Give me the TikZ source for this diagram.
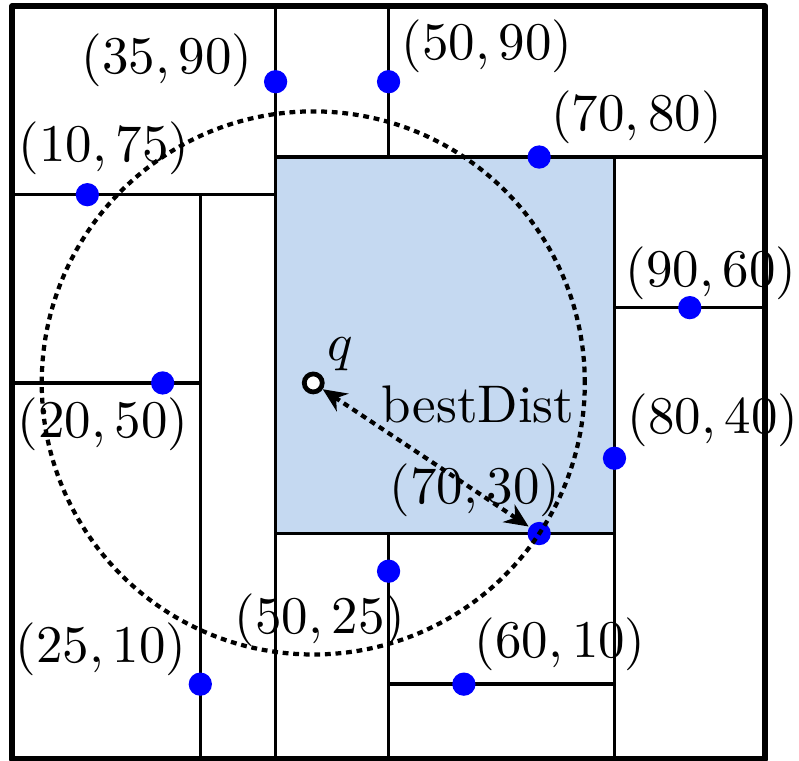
\documentclass[tikz,border=0pt]{standalone}
\usepackage{tikz}
\usetikzlibrary{arrows.meta,positioning}
\definecolor{cellblue}{RGB}{197,217,241}
\tikzset{
  kdpoint/.style={circle,fill=blue,inner sep=0pt,minimum size=4.4pt},
  qpoint/.style={circle,draw=black,fill=white,line width=0.9pt,inner sep=0pt,minimum size=3.4pt},
  splitline/.style={line width=0.65pt},
  frameline/.style={line width=1.15pt,line join=round},
  ptlabel/.style={inner sep=0pt},
  distline/.style={dash pattern=on 1.1pt off 0.9pt,line width=0.8pt},
}

\begin{document}
\begin{tikzpicture}[x=0.05cm,y=0.05cm]
  \useasboundingbox (-1.6,-0.1) rectangle (104.5,100.85);
  % cell that holds the query
  \fill[cellblue] (35,30) rectangle (80,80);
  % splitting lines
  \draw[splitline] (35,0) -- (35,100);
  \draw[splitline] (0,75) -- (35,75);
  \draw[splitline] (25,0) -- (25,75);
  \draw[splitline] (0,50) -- (25,50);
  \draw[splitline] (50,80) -- (50,100);
  \draw[splitline] (35,80) -- (100,80);
  \draw[splitline] (80,0) -- (80,80);
  \draw[splitline] (80,60) -- (100,60);
  \draw[splitline] (35,30) -- (80,30);
  \draw[splitline] (50,0) -- (50,30);
  \draw[splitline] (50,10) -- (80,10);
  \draw[frameline] (0,0) rectangle (100,100);
  % points
  \node[kdpoint] (p3590) at (35,90) {};
  \node[kdpoint] (p1075) at (10,75) {};
  \node[kdpoint] (p5090) at (50,90) {};
  \node[kdpoint] (p7080) at (70,80) {};
  \node[kdpoint] (p9060) at (90,60) {};
  \node[kdpoint] (p8040) at (80,40) {};
  \node[kdpoint] (p2050) at (20,50) {};
  \node[kdpoint] (p7030) at (70,30) {};
  \node[kdpoint] (p5025) at (50,25) {};
  \node[kdpoint] (p6010) at (60,10) {};
  \node[kdpoint] (p2510) at (25,10) {};
  \coordinate (qc) at (40,50);
  % search radius
  \draw[distline] (qc) circle[radius=36.06];
  \node[qpoint] (q) at (qc) {};
  \draw[distline,{Stealth[length=4.5pt,width=4pt]}-{Stealth[length=4.5pt,width=4pt]}] (q) -- (p7030);
  % labels
  \node[ptlabel] (l3590) at (20.6,92.8) {$(35,90)$};
  \node[ptlabel] (l1075) at (12.2,81.1) {$(10,75)$};
  \node[ptlabel] (l5090) at (63.1,94.7) {$(50,90)$};
  \node[ptlabel] (l7080) at (82.9,85.3) {$(70,80)$};
  \node[ptlabel] (l9060) at (92.8,64.6) {$(90,60)$};
  \node[ptlabel] (l8040) at (93.1,45.1) {$(80,40)$};
  \node[ptlabel] (l2050) at (12.1,44.5) {$(20,50)$};
  \node[ptlabel] (l7030) at (61.5,35.7) {$(70,30)$};
  \node[ptlabel] (l5025) at (40.9,18.5) {$(50,25)$};
  \node[ptlabel] (l6010) at (72.8,15.3) {$(60,10)$};
  \node[ptlabel] (l2510) at (11.8,14.6) {$(25,10)$};
  \node[ptlabel] (lq) at (43.6,53.8) {$q$};
  \node[ptlabel] (ldist) at (61.9,47.1) {bestDist};
\end{tikzpicture}
\end{document}
